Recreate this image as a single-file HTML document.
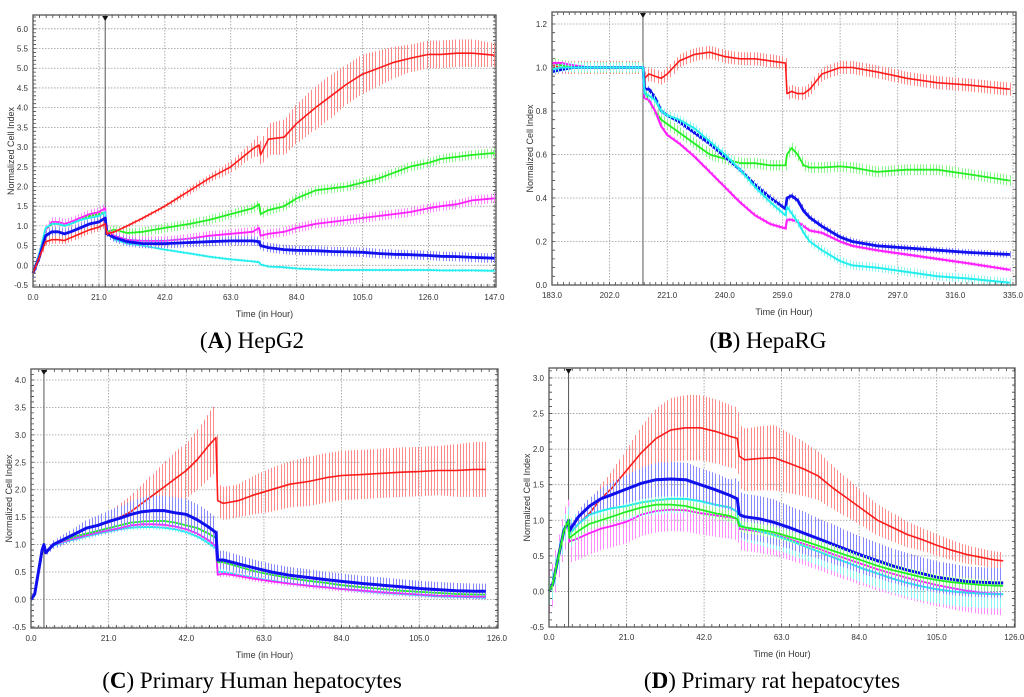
<!DOCTYPE html>
<html><head><meta charset="utf-8">
<style>
html,body{margin:0;padding:0;background:#fff;}
svg{display:block;}
.tk{font-family:"Liberation Sans",sans-serif;font-size:8px;fill:#333;}
.ttl{font-family:"Liberation Sans",sans-serif;font-size:9px;fill:#333;}
.cap{font-family:"Liberation Serif",serif;font-size:23px;fill:#000;}
</style></head>
<body>
<svg id="fig" width="1024" height="697" viewBox="0 0 1024 697" xmlns="http://www.w3.org/2000/svg">
<text class="cap" x="252" y="348" text-anchor="middle">(<tspan font-weight="bold">A</tspan>) HepG2</text>
<text class="cap" x="768" y="348" text-anchor="middle">(<tspan font-weight="bold">B</tspan>) HepaRG</text>
<text class="cap" x="252" y="688" text-anchor="middle">(<tspan font-weight="bold">C</tspan>) Primary Human hepatocytes</text>
<text class="cap" x="772" y="688" text-anchor="middle">(<tspan font-weight="bold">D</tspan>) Primary rat hepatocytes</text>
</svg>
<script>
// ---------- Panel A (HepG2) ----------
const aTimes=[0,2,4,6,8,10,12,15,18,21,23, 23.5,26,30,35,42,50,56,63,70,72, 72.5,75,80,84,90,95,100,105,110,115,120,126,130,135,140,147];
const aRed=[-0.2,0.2,0.6,0.65,0.65,0.63,0.7,0.8,0.9,0.97,1.05, 0.8,0.85,1.0,1.2,1.5,1.9,2.2,2.5,2.95,3.05, 2.8,3.2,3.25,3.6,4.0,4.3,4.6,4.85,5.0,5.15,5.25,5.35,5.35,5.38,5.38,5.33];
const aRedErr=[0.05,0.05,0.1,0.1,0.1,0.1,0.1,0.1,0.1,0.1,0.1, 0.05,0.05,0.05,0.05,0.05,0.1,0.1,0.15,0.2,0.3, 0.3,0.4,0.45,0.5,0.55,0.55,0.5,0.5,0.45,0.4,0.35,0.35,0.35,0.35,0.35,0.3];
const aGreen=[-0.2,0.3,0.9,1.05,1.05,1.0,1.05,1.15,1.25,1.3,1.35, 0.85,0.9,0.82,0.85,0.95,1.05,1.15,1.3,1.45,1.55, 1.3,1.4,1.5,1.7,1.9,1.95,2.0,2.1,2.2,2.35,2.5,2.6,2.7,2.75,2.8,2.85];
const aMagenta=[-0.2,0.3,0.9,1.1,1.1,1.05,1.1,1.2,1.3,1.35,1.45, 0.85,0.75,0.65,0.62,0.62,0.68,0.75,0.8,0.85,0.95, 0.75,0.8,0.85,0.95,1.05,1.1,1.15,1.2,1.25,1.3,1.35,1.45,1.5,1.55,1.65,1.7];
const aBlue=[-0.2,0.2,0.75,0.85,0.85,0.8,0.85,0.95,1.05,1.1,1.2, 0.8,0.7,0.6,0.55,0.55,0.58,0.6,0.62,0.62,0.6, 0.5,0.45,0.4,0.38,0.37,0.35,0.34,0.33,0.3,0.28,0.27,0.25,0.23,0.22,0.2,0.18];
const aCyan=[-0.2,0.3,0.95,1.05,1.05,1.0,1.05,1.15,1.2,1.25,1.35, 0.85,0.65,0.55,0.5,0.4,0.3,0.22,0.15,0.1,0.08, 0.02,-0.03,-0.05,-0.08,-0.1,-0.12,-0.12,-0.12,-0.12,-0.12,-0.12,-0.12,-0.13,-0.13,-0.13,-0.14];
const aXTicks=["0.0","21.0","42.0","63.0","84.0","105.0","126.0","147.0"];
const aYTicks=["-0.5","0.0","0.5","1.0","1.5","2.0","2.5","3.0","3.5","4.0","4.5","5.0","5.5","6.0"];

// ---------- Panel B (HepaRG) ----------
const bTimes=[183,186,190,195,200,205,210,213, 213.5,215,217,219,221,225,230,235,240,245,250,255,260, 260.5,262,264,266,268,272,278,282,290,300,310,320,334];
const bRed=[1.01,1.0,1.0,1.0,1.0,1.0,1.0,1.0, 0.95,0.97,0.96,0.95,0.97,1.03,1.06,1.07,1.05,1.04,1.04,1.03,1.02, 0.88,0.89,0.88,0.88,0.9,0.97,1.0,1.0,0.98,0.95,0.93,0.92,0.9];
const bGreen=[1.02,1.01,1.0,1.0,1.0,1.0,1.0,1.0, 0.9,0.85,0.8,0.76,0.74,0.7,0.65,0.6,0.58,0.56,0.56,0.55,0.55, 0.6,0.63,0.6,0.55,0.54,0.54,0.545,0.54,0.52,0.53,0.53,0.51,0.48];
const bMagenta=[1.02,1.02,1.01,1.0,1.0,1.0,1.0,1.0, 0.86,0.85,0.8,0.73,0.69,0.65,0.59,0.52,0.45,0.38,0.32,0.28,0.26, 0.3,0.3,0.29,0.27,0.25,0.24,0.2,0.18,0.16,0.14,0.12,0.1,0.07];
const bBlue=[0.98,0.99,1.0,1.0,1.0,1.0,1.0,1.0, 0.9,0.9,0.86,0.8,0.78,0.75,0.7,0.65,0.59,0.53,0.46,0.4,0.35, 0.4,0.41,0.39,0.34,0.31,0.27,0.22,0.2,0.18,0.17,0.16,0.15,0.14];
const bCyan=[0.99,1.0,1.0,1.0,1.0,1.0,1.0,1.0, 0.88,0.87,0.85,0.8,0.78,0.76,0.72,0.66,0.6,0.53,0.45,0.38,0.32, 0.36,0.33,0.29,0.24,0.2,0.16,0.11,0.09,0.08,0.06,0.04,0.03,0.01];
const bXTicks=["183.0","202.0","221.0","240.0","259.0","278.0","297.0","316.0","335.0"];
const bYTicks=["0.0","0.2","0.4","0.6","0.8","1.0","1.2"];

// ---------- Panel C (Primary human) ----------
const cTimes=[0,1,2,3,3.5, 4,6,9,12,15,18,21,24,27,30,33,36,39,42,45,48,50, 50.5,52,56,60,65,70,75,80,84,90,95,100,105,110,115,120,123];
const cRed=[0,0.1,0.5,0.9,1.0, 0.85,1.0,1.1,1.2,1.3,1.35,1.4,1.5,1.6,1.75,1.9,2.05,2.2,2.35,2.55,2.8,2.95, 1.8,1.75,1.8,1.9,2.0,2.1,2.15,2.22,2.26,2.28,2.3,2.32,2.33,2.35,2.35,2.37,2.37];
const cRedErr=[0.03,0.03,0.03,0.03,0.03, 0.05,0.05,0.05,0.1,0.1,0.15,0.2,0.25,0.3,0.35,0.4,0.45,0.5,0.5,0.55,0.6,0.62, 0.3,0.3,0.3,0.35,0.4,0.42,0.45,0.45,0.45,0.45,0.45,0.45,0.45,0.45,0.48,0.5,0.5];
const cBlue=[0,0.1,0.5,0.9,1.0, 0.85,1.0,1.1,1.2,1.3,1.35,1.42,1.48,1.55,1.6,1.62,1.62,1.58,1.55,1.45,1.32,1.22, 0.72,0.72,0.65,0.58,0.5,0.44,0.4,0.36,0.33,0.29,0.26,0.23,0.2,0.18,0.16,0.15,0.15];
const cBlueErr=[0.02,0.02,0.02,0.02,0.02, 0.05,0.08,0.1,0.12,0.15,0.18,0.2,0.22,0.24,0.26,0.27,0.27,0.28,0.28,0.28,0.28,0.27, 0.17,0.17,0.16,0.15,0.15,0.15,0.15,0.14,0.14,0.14,0.14,0.14,0.14,0.14,0.14,0.14,0.14];
const cGreen=[0,0.1,0.5,0.9,1.0, 0.85,1.0,1.08,1.15,1.2,1.25,1.3,1.35,1.4,1.42,1.43,1.43,1.4,1.35,1.3,1.2,1.12, 0.68,0.68,0.6,0.52,0.45,0.39,0.34,0.3,0.26,0.22,0.19,0.16,0.14,0.12,0.1,0.09,0.09];
const cMagenta=[0,0.1,0.5,0.9,1.0, 0.85,1.0,1.06,1.12,1.17,1.22,1.26,1.3,1.35,1.37,1.37,1.36,1.33,1.28,1.2,1.08,0.97, 0.45,0.47,0.43,0.38,0.33,0.29,0.25,0.22,0.19,0.16,0.13,0.11,0.09,0.07,0.06,0.05,0.05];
const cCyan=[0,0.1,0.5,0.9,1.0, 0.85,0.98,1.05,1.1,1.15,1.2,1.24,1.28,1.31,1.32,1.32,1.31,1.28,1.23,1.15,1.03,0.93, 0.5,0.5,0.45,0.4,0.34,0.29,0.25,0.22,0.19,0.15,0.12,0.1,0.08,0.06,0.05,0.04,0.03];
const cXTicks=["0.0","21.0","42.0","63.0","84.0","105.0","126.0"];
const cYTicks=["-0.5","0.0","0.5","1.0","1.5","2.0","2.5","3.0","3.5","4.0"];

// ---------- Panel D (Primary rat) ----------
const dTimes=[0,1,2,3,4,5.3, 5.5,8,11,14,17,21,25,29,33,37,41,45,49,51, 51.5,53,57,61,65,69,73,77,81,85,89,93,97,101,105,109,113,117,121,123];
const dRed=[0,0.1,0.35,0.6,0.85,1.0, 0.8,0.95,1.1,1.3,1.45,1.7,1.95,2.15,2.27,2.3,2.3,2.25,2.18,2.15, 1.9,1.85,1.87,1.88,1.8,1.72,1.62,1.45,1.3,1.15,1.0,0.9,0.8,0.73,0.65,0.58,0.52,0.48,0.44,0.43];
const dRedErr=[0.05,0.05,0.05,0.05,0.05,0.05, 0.05,0.1,0.15,0.2,0.25,0.3,0.38,0.43,0.45,0.46,0.46,0.45,0.44,0.43, 0.44,0.44,0.45,0.46,0.42,0.38,0.34,0.3,0.27,0.24,0.22,0.2,0.18,0.16,0.15,0.14,0.13,0.12,0.12,0.12];
const dBlue=[0,0.1,0.35,0.6,0.85,1.0, 0.85,1.05,1.2,1.3,1.36,1.44,1.52,1.57,1.58,1.57,1.5,1.43,1.35,1.3, 1.08,1.05,1.02,0.97,0.9,0.82,0.74,0.66,0.58,0.5,0.43,0.36,0.3,0.25,0.2,0.17,0.14,0.13,0.12,0.12];
const dBlueErr=[0.02,0.02,0.02,0.02,0.02,0.02, 0.05,0.1,0.12,0.15,0.18,0.2,0.22,0.24,0.24,0.24,0.23,0.23,0.22,0.3, 0.32,0.32,0.32,0.32,0.3,0.3,0.28,0.28,0.26,0.26,0.25,0.24,0.24,0.23,0.22,0.22,0.21,0.21,0.21,0.21];
const dCyan=[0,0.1,0.35,0.6,0.85,1.0, 0.8,0.95,1.08,1.13,1.17,1.2,1.25,1.28,1.3,1.3,1.27,1.22,1.18,1.12, 0.95,0.9,0.85,0.79,0.72,0.64,0.56,0.48,0.4,0.32,0.25,0.18,0.12,0.07,0.03,0.0,-0.02,-0.03,-0.04,-0.04];
const dGreen=[0,0.1,0.35,0.6,0.85,1.0, 0.75,0.85,0.95,1.0,1.05,1.12,1.18,1.22,1.22,1.2,1.15,1.1,1.06,1.02, 0.92,0.9,0.87,0.83,0.77,0.71,0.64,0.57,0.5,0.43,0.36,0.3,0.25,0.2,0.16,0.13,0.11,0.09,0.08,0.08];
const dMagenta=[0,0.1,0.35,0.6,0.85,1.0, 0.7,0.75,0.82,0.88,0.92,0.98,1.08,1.13,1.15,1.14,1.1,1.07,1.04,1.02, 0.88,0.87,0.84,0.8,0.74,0.67,0.6,0.52,0.45,0.38,0.31,0.25,0.19,0.14,0.09,0.05,0.01,-0.02,-0.03,-0.04];
const dXTicks=["0.0","21.0","42.0","63.0","84.0","105.0","126.0"];
const dYTicks=["-0.5","0.0","0.5","1.0","1.5","2.0","2.5","3.0"];

const RED=["#ff1a1a","#ff8a8a"],GRN=["#22ee22","#8ff58f"],MAG=["#ff22ff","#ff8cff"],BLU=["#1010ee","#8888ff"],CYN=["#22eeee","#8ff5f5"];
const panels=[
 {id:"a",L:33,R:496,T:15,B:287,x0:0,x1:147.5,y0:-0.55,y1:6.35,xt:aXTicks,yt:aYTicks,xs:21,ys:0.5,treat:23,t:aTimes,
  series:[["green",GRN,aGreen,0.12,1.8],["magenta",MAG,aMagenta,0.12,1.8],["cyan",CYN,aCyan,0.04,1.8],["blue",BLU,aBlue,0.12,2.8],["red",RED,aRed,aRedErr,1.6]]},
 {id:"b",L:552,R:1016,T:12,B:285,x0:183,x1:336,y0:0,y1:1.255,xt:bXTicks,yt:bYTicks,xs:19,ys:0.2,treat:213,t:bTimes,
  series:[["red",RED,bRed,0.03,1.6],["green",GRN,bGreen,0.025,1.8],["magenta",MAG,bMagenta,0.01,2.2],["blue",BLU,bBlue,0.015,2.8],["cyan",CYN,bCyan,0.02,2]]},
 {id:"c",L:31,R:498,T:369,B:628,x0:0,x1:126.3,y0:-0.52,y1:4.2,xt:cXTicks,yt:cYTicks,xs:21,ys:0.5,treat:3.5,t:cTimes,
  series:[["red",RED,cRed,cRedErr,1.6],["cyan",CYN,cCyan,0.05,2],["magenta",MAG,cMagenta,0.05,1.8],["green",GRN,cGreen,0.05,1.8],["blue",BLU,cBlue,cBlueErr,3]]},
 {id:"d",L:549,R:1015,T:368,B:627,x0:0,x1:126.2,y0:-0.5,y1:3.14,xt:dXTicks,yt:dYTicks,xs:21,ys:0.5,treat:5.3,t:dTimes,
  series:[["red",RED,dRed,dRedErr,1.6],["magenta",MAG,dMagenta,0.3,1.8],["cyan",CYN,dCyan,0.2,2],["blue",BLU,dBlue,dBlueErr,3],["green",GRN,dGreen,0.08,1.8]]}
];
const NS="http://www.w3.org/2000/svg";
const fig=document.getElementById('fig');
function mk(tag,attrs,parent){const e=document.createElementNS(NS,tag);for(const k in attrs)e.setAttribute(k,attrs[k]);parent.appendChild(e);return e;}
panels.forEach(p=>{
 const g=mk('g',{},fig);
 
 
 const sx=v=>p.L+(v-p.x0)/(p.x1-p.x0)*(p.R-p.L);
 const sy=v=>p.B-(v-p.y0)/(p.y1-p.y0)*(p.B-p.T);
 mk('rect',{x:p.L,y:p.T,width:p.R-p.L,height:p.B-p.T,fill:"#fff"},g);
 p.xt.forEach((lab,i)=>{const v=p.x0+i*p.xs;const x=sx(v);
  if(i>0){const l=mk('line',{x1:x,x2:x,y1:p.T,y2:p.B,stroke:"#999","stroke-width":0.8,"stroke-dasharray":"1.5,1.5"},g);
   }
  const t=mk('text',{x:x,y:p.B+13,"text-anchor":"middle",class:"tk"},g);t.textContent=lab;
  
 });
 p.yt.forEach((lab,i)=>{const v=parseFloat(lab);const y=sy(v);
  const l=mk('line',{x1:p.L,x2:p.R,y1:y,y2:y,stroke:"#999","stroke-width":0.8,"stroke-dasharray":"1.5,1.5"},g);
  
  const t=mk('text',{x:p.L-5,y:y+3,"text-anchor":"end",class:"tk"},g);t.textContent=lab;
  
 });
 let d="";
 for(let v=p.x0;v<=p.x1;v+=p.xs/10){const x=sx(v);d+=`M${x},${p.B}v-3M${x},${p.T}v3`;}
 for(let v=parseFloat(p.yt[0]);v<=p.y1;v+=p.ys/5){const y=sy(v);d+=`M${p.L},${y}h3M${p.R},${y}h-3`;}
 mk('path',{d:d,stroke:"#444","stroke-width":0.8,fill:"none"},g);
 const tx=sx(p.treat);
 const tl=mk('line',{x1:tx,x2:tx,y1:p.T+5,y2:p.B,stroke:"#555","stroke-width":1},g);
 
 mk('path',{d:`M${tx-3},${p.T+1}h6l-3,5z`,fill:"#111"},g);
 p.series.forEach(s=>{
  const [name,col,vals,err,w]=s;
  const eAt=i=>Array.isArray(err)?err[i]:err;
  const sg=mk('g',{},g);
  
  
  let ed="";
  const step=(p.x1-p.x0)*3.2/(p.R-p.L);
  let t=p.t[0];
  for(let i=0;i<p.t.length-1;i++){
   const t0=p.t[i],t1=p.t[i+1];
   while(t<t1){
    const f=(t-t0)/(t1-t0);
    const v=vals[i]+(vals[i+1]-vals[i])*f;
    const e=eAt(i)+(eAt(i+1)-eAt(i))*f;
    const x=Math.round(sx(t))+0.5;ed+=`M${x},${sy(v+e).toFixed(1)}V${sy(v-e).toFixed(1)}`;
    t+=step;
   }
  }
  const eb=mk('path',{d:ed,stroke:col[1],"stroke-width":1,fill:"none"},sg);
  
  
  const pts=p.t.map((t,i)=>sx(t).toFixed(1)+","+sy(vals[i]).toFixed(1)).join(" ");
  const pl=mk('polyline',{points:pts,stroke:col[0],"stroke-width":w,fill:"none","stroke-linejoin":"round"},sg);
  
  
 });
 const fr=mk('rect',{x:p.L,y:p.T,width:p.R-p.L,height:p.B-p.T,fill:"none",stroke:"#555","stroke-width":1.3},g);
 
 const xt=mk('text',{x:(p.L+p.R)/2,y:p.B+30,"text-anchor":"middle",class:"ttl"},g);xt.textContent="Time (in Hour)";
 
 const yx=p.L-19,yy=(p.T+p.B)/2;
 const yt=mk('text',{x:yx,y:yy,"text-anchor":"middle",class:"ttl",transform:`rotate(-90 ${yx} ${yy})`},g);yt.textContent="Normalized Cell Index";
 
});
</script>
</body></html>
